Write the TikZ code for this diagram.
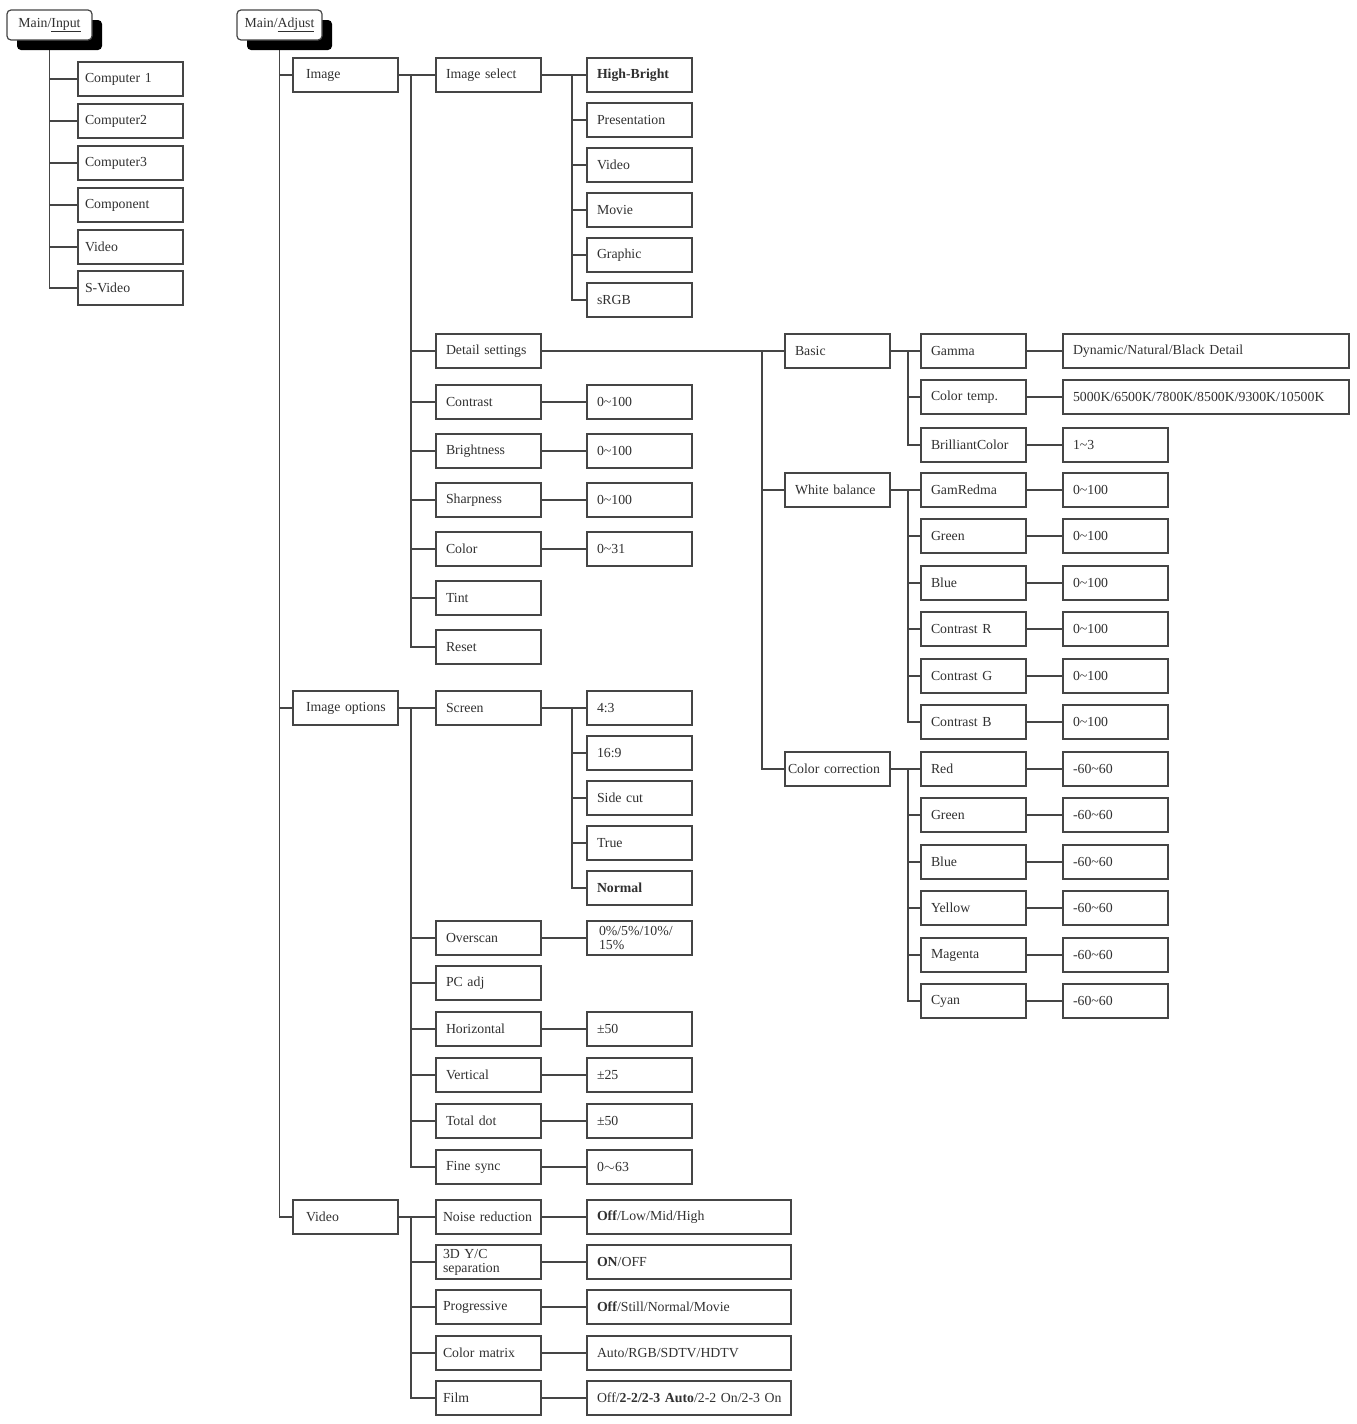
\documentclass[tikz,border=0pt]{standalone}
\usepackage{fontspec}
\setmainfont{Liberation Serif}
\usetikzlibrary{shadows,backgrounds}
\definecolor{ln}{HTML}{454545}
\definecolor{tx}{HTML}{303030}
\begin{document}
\begin{tikzpicture}[x=1pt,y=-1pt,
  font=\fontsize{13.8}{14}\selectfont, text=tx,
  box/.style={draw=ln, line width=1.6pt, anchor=west, minimum height=34pt,
    inner xsep=10pt, inner ysep=0pt, align=left, text width=#1, outer sep=0pt},
  b/.style={box=85pt},
  w/.style={box=184pt},
  ww/.style={box=266pt},
  hdr/.style={draw=ln, fill=white, rounded corners=4pt, line width=1.2pt,
    minimum width=85pt, minimum height=30pt, inner sep=0pt,
    drop shadow={shadow xshift=10pt, shadow yshift=-10pt, fill=black, opacity=1}},
  conn/.style={draw=ln, line width=1.6pt}]
\useasboundingbox (0,0) rectangle (1357,1424);

% headers
\node[hdr] (hin) at (49.5,25) {Main/\underline{Input}};
\node[hdr] (hadj) at (279.5,25) {Main/\underline{Adjust}};

% Input children
\node[b, inner xsep=7pt, text width=91pt] (in1) at (78,79) {Computer 1};
\node[b, inner xsep=7pt, text width=91pt] (in2) at (78,121) {Computer2};
\node[b, inner xsep=7pt, text width=91pt] (in3) at (78,163) {Computer3};
\node[b, inner xsep=7pt, text width=91pt] (in4) at (78,205) {Component};
\node[b, inner xsep=7pt, text width=91pt] (in5) at (78,247) {Video};
\node[b, inner xsep=7pt, text width=91pt] (in6) at (78,288) {S-Video};

% Adjust level 1
\node[b, inner xsep=13pt, text width=79pt] (img) at (293,75) {Image};
\node[b, inner xsep=13pt, text width=79pt] (imgopt) at (293,708) {\mbox{Image options}};
\node[b, inner xsep=13pt, text width=79pt] (vid) at (293,1217) {Video};

% Image level 2
\node[b] (isel) at (436,75) {Image select};
\node[b] (detail) at (436,351) {Detail settings};
\node[b] (contrast) at (436,402) {Contrast};
\node[b] (bright) at (436,451) {Brightness};
\node[b] (sharp) at (436,500) {Sharpness};
\node[b] (color) at (436,549) {Color};
\node[b] (tint) at (436,598) {Tint};
\node[b] (reset) at (436,647) {Reset};

% Image select
\node[b] (hb) at (587,75) {\textbf{High-Bright}};
\node[b] (pres) at (587,120) {Presentation};
\node[b] (svid) at (587,165) {Video};
\node[b] (movie) at (587,210) {Movie};
\node[b] (graphic) at (587,255) {Graphic};
\node[b] (srgb) at (587,300) {sRGB};

% values
\node[b] (vcontrast) at (587,402) {0\textasciitilde 100};
\node[b] (vbright) at (587,451) {0\textasciitilde 100};
\node[b] (vsharp) at (587,500) {0\textasciitilde 100};
\node[b] (vcolor) at (587,549) {0\textasciitilde 31};

% Detail settings
\node[b] (basic) at (785,351) {Basic};
\node[b] (wb) at (785,490) {White balance};
\node[b, inner xsep=3pt, text width=99pt] (cc) at (785,769) {\mbox{Color correction}};

% Basic
\node[b] (gamma) at (921,351) {Gamma};
\node[b] (ctemp) at (921,397) {Color temp.};
\node[b] (bcolor) at (921,445) {BrilliantColor};
\node[ww] (vgamma) at (1063,351) {Dynamic/Natural/Black Detail};
\node[ww] (vctemp) at (1063,397) {\mbox{5000K/6500K/7800K/8500K/9300K/10500K}};
\node[b] (vbcolor) at (1063,445) {1\textasciitilde 3};

% White balance
\node[b] (gr) at (921,490) {GamRedma};
\node[b] (wgreen) at (921,536) {Green};
\node[b] (wblue) at (921,583) {Blue};
\node[b] (wcr) at (921,629) {Contrast R};
\node[b] (wcg) at (921,676) {Contrast G};
\node[b] (wcb) at (921,722) {Contrast B};
\node[b] (vgr) at (1063,490) {0\textasciitilde 100};
\node[b] (vwgreen) at (1063,536) {0\textasciitilde 100};
\node[b] (vwblue) at (1063,583) {0\textasciitilde 100};
\node[b] (vwcr) at (1063,629) {0\textasciitilde 100};
\node[b] (vwcg) at (1063,676) {0\textasciitilde 100};
\node[b] (vwcb) at (1063,722) {0\textasciitilde 100};

% Color correction
\node[b] (red) at (921,769) {Red};
\node[b] (cgreen) at (921,815) {Green};
\node[b] (cblue) at (921,862) {Blue};
\node[b] (yellow) at (921,908) {Yellow};
\node[b] (magenta) at (921,955) {Magenta};
\node[b] (cyan) at (921,1001) {Cyan};
\node[b] (vred) at (1063,769) {-60\textasciitilde 60};
\node[b] (vcgreen) at (1063,815) {-60\textasciitilde 60};
\node[b] (vcblue) at (1063,862) {-60\textasciitilde 60};
\node[b] (vyellow) at (1063,908) {-60\textasciitilde 60};
\node[b] (vmagenta) at (1063,955) {-60\textasciitilde 60};
\node[b] (vcyan) at (1063,1001) {-60\textasciitilde 60};

% Image options
\node[b] (screen) at (436,708) {Screen};
\node[b] (overscan) at (436,938) {Overscan};
\node[b] (pcadj) at (436,983) {PC adj};
\node[b] (horiz) at (436,1029) {Horizontal};
\node[b] (vert) at (436,1075) {Vertical};
\node[b] (tdot) at (436,1121) {Total dot};
\node[b] (fsync) at (436,1167) {Fine sync};

\node[b] (s43) at (587,708) {4:3};
\node[b] (s169) at (587,753) {16:9};
\node[b] (sidecut) at (587,798) {Side cut};
\node[b] (strue) at (587,843) {True};
\node[b] (snormal) at (587,888) {\textbf{Normal}};

\node[b, inner xsep=12pt, text width=81pt] (voverscan) at (587,938) {\fontsize{13.8}{13}\selectfont 0\%/5\%/10\%/\\15\%};
\node[b] (vhoriz) at (587,1029) {\textpm 50};
\node[b] (vvert) at (587,1075) {\textpm 25};
\node[b] (vtdot) at (587,1121) {\textpm 50};
\node[b] (vfsync) at (587,1167) {0$\sim$63};

% Video
\node[b, inner xsep=7pt, text width=91pt] (noise) at (436,1217) {\mbox{Noise reduction}};
\node[b, inner xsep=7pt, text width=91pt] (yc) at (436,1262) {\fontsize{13.8}{13}\selectfont 3D Y/C\\separation};
\node[b, inner xsep=7pt, text width=91pt] (prog) at (436,1307) {Progressive};
\node[b, inner xsep=7pt, text width=91pt] (cmat) at (436,1353) {Color matrix};
\node[b, inner xsep=7pt, text width=91pt] (film) at (436,1398) {Film};
\node[w] (vnoise) at (587,1217) {\textbf{Off}/Low/Mid/High};
\node[w] (vyc) at (587,1262) {\textbf{ON}/OFF};
\node[w] (vprog) at (587,1307) {\textbf{Off}/Still/Normal/Movie};
\node[w] (vcmat) at (587,1353) {Auto/RGB/SDTV/HDTV};
\node[w] (vfilm) at (587,1398) {\mbox{Off/\textbf{2-2/2-3 Auto}/2-2 On/2-3 On}};

% bus coordinates
\coordinate (b1) at (411,0);
\coordinate (b2) at (572,0);
\coordinate (b3) at (762,0);
\coordinate (b4) at (908,0);

\begin{pgfonlayer}{background}
\foreach \c in {in1,in2,in3,in4,in5,in6} \draw[conn] (hin.south) |- (\c.west);
\foreach \c in {img,imgopt,vid} \draw[conn] (hadj.south) |- (\c.west);
\foreach \c in {isel,detail,contrast,bright,sharp,color,tint,reset}
  \draw[conn] (img.east) -- (img.east -| b1) |- (\c.west);
\foreach \c in {hb,pres,svid,movie,graphic,srgb}
  \draw[conn] (isel.east) -- (isel.east -| b2) |- (\c.west);
\foreach \c in {basic,wb,cc}
  \draw[conn] (detail.east) -- (detail.east -| b3) |- (\c.west);
\foreach \c in {gamma,ctemp,bcolor}
  \draw[conn] (basic.east) -- (basic.east -| b4) |- (\c.west);
\foreach \c in {gr,wgreen,wblue,wcr,wcg,wcb}
  \draw[conn] (wb.east) -- (wb.east -| b4) |- (\c.west);
\foreach \c in {red,cgreen,cblue,yellow,magenta,cyan}
  \draw[conn] (cc.east) -- (cc.east -| b4) |- (\c.west);
\foreach \c in {screen,overscan,pcadj,horiz,vert,tdot,fsync}
  \draw[conn] (imgopt.east) -- (imgopt.east -| b1) |- (\c.west);
\foreach \c in {s43,s169,sidecut,strue,snormal}
  \draw[conn] (screen.east) -- (screen.east -| b2) |- (\c.west);
\foreach \c in {noise,yc,prog,cmat,film}
  \draw[conn] (vid.east) -- (vid.east -| b1) |- (\c.west);
\foreach \a/\v in {contrast/vcontrast,bright/vbright,sharp/vsharp,color/vcolor,
  gamma/vgamma,ctemp/vctemp,bcolor/vbcolor,gr/vgr,wgreen/vwgreen,wblue/vwblue,
  wcr/vwcr,wcg/vwcg,wcb/vwcb,red/vred,cgreen/vcgreen,cblue/vcblue,yellow/vyellow,
  magenta/vmagenta,cyan/vcyan,overscan/voverscan,horiz/vhoriz,vert/vvert,
  tdot/vtdot,fsync/vfsync,noise/vnoise,yc/vyc,prog/vprog,cmat/vcmat,film/vfilm}
  \draw[conn] (\a.east) -- (\v.west);
\end{pgfonlayer}
\end{tikzpicture}
\end{document}
